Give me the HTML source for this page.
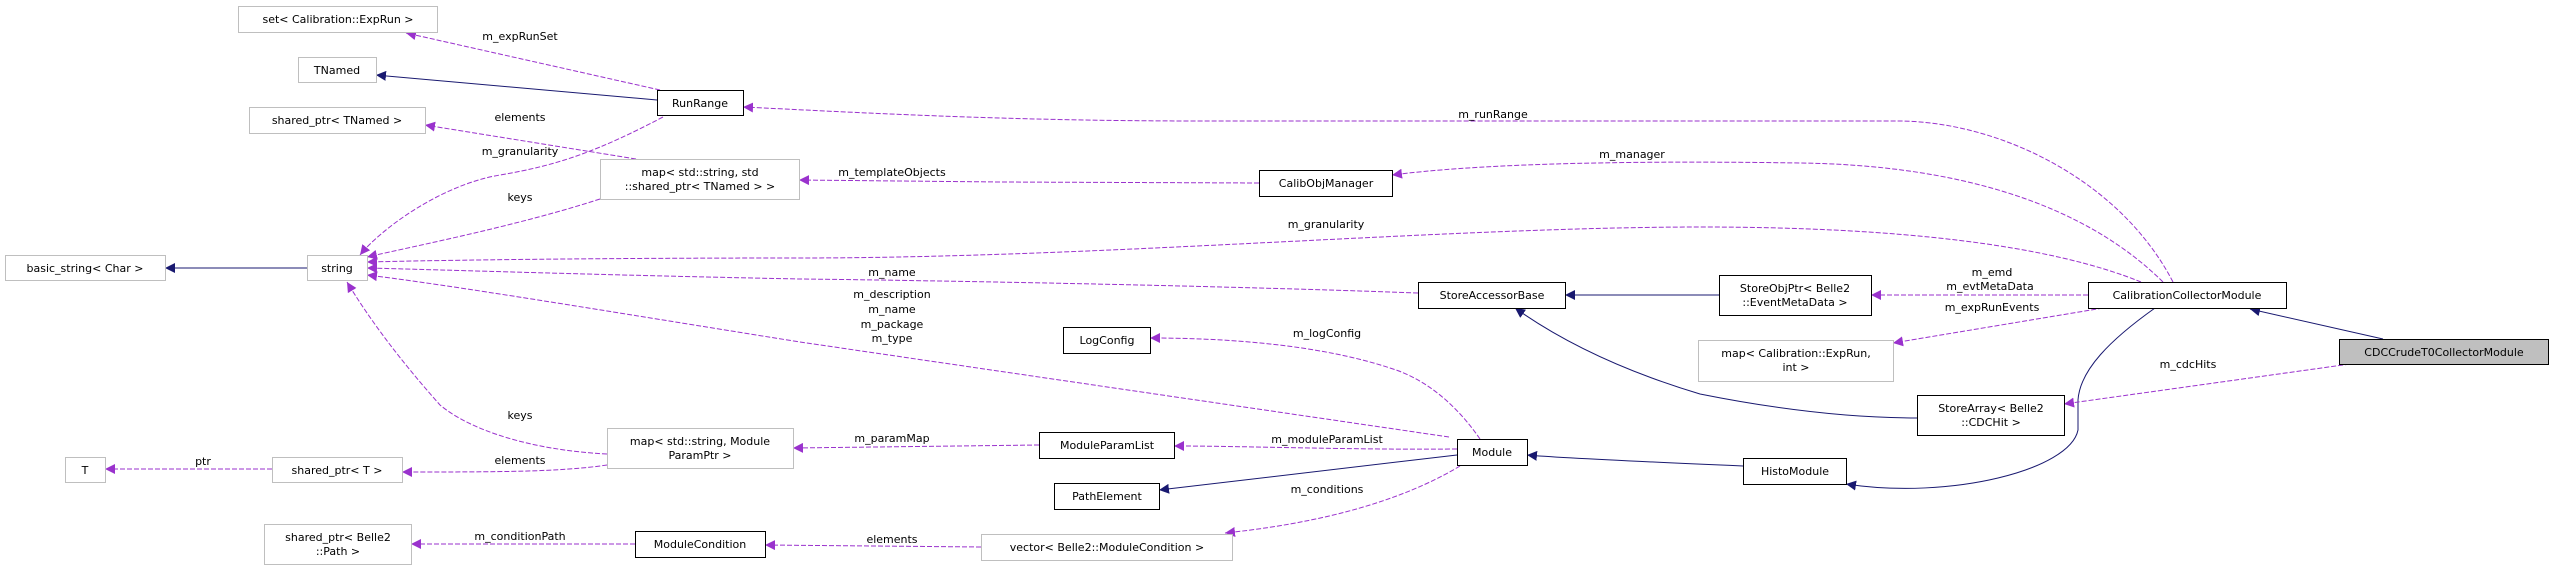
<!DOCTYPE html>
<html><head><meta charset="utf-8"><style>
html,body{margin:0;padding:0;background:#fff;}
svg{display:block;}
text{font-family:"DejaVu Sans","Liberation Sans",sans-serif;font-size:11px;fill:#000;}
.g{fill:#fff;stroke:#bfbfbf;stroke-width:1}
.b{fill:#fff;stroke:#000;stroke-width:1}
.p{fill:none;stroke:#9a32cd;stroke-width:1;stroke-dasharray:5,2}
.n{fill:none;stroke:#191970;stroke-width:1}
</style></head><body>
<svg width="2555" height="569" viewBox="0 0 2555 569" xmlns="http://www.w3.org/2000/svg">
<defs>
<marker id="mp" viewBox="0 0 10 10" refX="10" refY="5" markerWidth="10" markerHeight="10" markerUnits="userSpaceOnUse" orient="auto"><path d="M0,0 L10,5 L0,10 z" fill="#9a32cd"/></marker>
<marker id="mb" viewBox="0 0 10 10" refX="10" refY="5" markerWidth="10" markerHeight="10" markerUnits="userSpaceOnUse" orient="auto"><path d="M0,0 L10,5 L0,10 z" fill="#191970"/></marker>
</defs>

<!-- edges -->
<path class="p" marker-end="url(#mp)" d="M660,90 L406,33"/>
<path class="n" marker-end="url(#mb)" d="M657,100 L376,75"/>
<path class="p" marker-end="url(#mp)" d="M636,159 L425,125"/>
<path class="p" marker-end="url(#mp)" d="M663,117 C600,150 560,165 500,175 C440,185 380,230 360,255"/>
<path class="p" marker-end="url(#mp)" d="M600,199 C520,225 420,245 367,257"/>
<path class="n" marker-end="url(#mb)" d="M307,268 L165,268"/>
<path class="p" marker-end="url(#mp)" d="M2173,282 C2120,180 2000,122 1900,121 L1200,121 C1000,121 850,112 743,107"/>
<path class="p" marker-end="url(#mp)" d="M2163,282 C2080,200 1950,165 1800,163 C1600,160 1470,165 1392,175"/>
<path class="p" marker-end="url(#mp)" d="M1259,183 L1000,182 L799,180"/>
<path class="p" marker-end="url(#mp)" d="M2141,282 C2050,245 1900,227 1700,227 C1450,227 1100,258 800,258 C600,258 450,260 367,262"/>
<path class="p" marker-end="url(#mp)" d="M1418,293 C1200,285 900,280 800,279 C600,275 450,270 367,268"/>
<path class="p" marker-end="url(#mp)" d="M1449,437 L800,342 C600,310 450,285 367,275"/>
<path class="p" marker-end="url(#mp)" d="M607,454 C530,450 470,430 440,405 C400,360 370,320 347,282"/>
<path class="p" marker-end="url(#mp)" d="M607,465 C560,472 500,472 402,472"/>
<path class="p" marker-end="url(#mp)" d="M272,469 L105,469"/>
<path class="p" marker-end="url(#mp)" d="M1039,445 L793,448"/>
<path class="p" marker-end="url(#mp)" d="M1457,449 C1350,450 1250,446 1174,446"/>
<path class="p" marker-end="url(#mp)" d="M1480,439 C1460,410 1430,380 1390,368 C1320,345 1230,338 1150,338"/>
<path class="n" marker-end="url(#mb)" d="M1457,455 L1159,490"/>
<path class="p" marker-end="url(#mp)" d="M1460,466 C1420,490 1350,520 1225,533"/>
<path class="p" marker-end="url(#mp)" d="M981,547 L765,545"/>
<path class="p" marker-end="url(#mp)" d="M635,544 L411,544"/>
<path class="n" marker-end="url(#mb)" d="M1743,466 C1650,462 1560,458 1527,455"/>
<path class="n" marker-end="url(#mb)" d="M1917,418 C1850,418 1780,410 1700,394 C1620,370 1560,340 1515,308"/>
<path class="n" marker-end="url(#mb)" d="M1719,295 L1565,295"/>
<path class="p" marker-end="url(#mp)" d="M2088,295 L1871,295"/>
<path class="p" marker-end="url(#mp)" d="M2103,308 L1893,343"/>
<path class="n" marker-end="url(#mb)" d="M2155,308 C2110,340 2080,370 2078,400 L2078,430 C2070,470 1950,500 1846,484"/>
<path class="n" marker-end="url(#mb)" d="M2383,339 L2250,309"/>
<path class="p" marker-end="url(#mp)" d="M2350,364 L2064,404"/>

<!-- edge labels -->
<g text-anchor="middle">
<text x="520" y="40">m_expRunSet</text>
<text x="520" y="121">elements</text>
<text x="520" y="155">m_granularity</text>
<text x="520" y="201">keys</text>
<text x="520" y="419">keys</text>
<text x="520" y="464">elements</text>
<text x="203" y="465">ptr</text>
<text x="520" y="540">m_conditionPath</text>
<text x="1493" y="118">m_runRange</text>
<text x="1632" y="158">m_manager</text>
<text x="892" y="176">m_templateObjects</text>
<text x="1326" y="228">m_granularity</text>
<text x="892" y="276">m_name</text>
<text x="892" y="298">m_description</text>
<text x="892" y="313">m_name</text>
<text x="892" y="328">m_package</text>
<text x="892" y="342">m_type</text>
<text x="1327" y="337">m_logConfig</text>
<text x="892" y="442">m_paramMap</text>
<text x="1327" y="443">m_moduleParamList</text>
<text x="1327" y="493">m_conditions</text>
<text x="892" y="543">elements</text>
<text x="1992" y="276">m_emd</text>
<text x="1990" y="290">m_evtMetaData</text>
<text x="1992" y="311">m_expRunEvents</text>
<text x="2188" y="368">m_cdcHits</text>
</g>

<!-- nodes -->
<g text-anchor="middle">
<rect class="g" x="238.5" y="6.5" width="199" height="26"/><text x="338" y="23">set&lt; Calibration::ExpRun &gt;</text>
<rect class="g" x="298.5" y="57.5" width="78" height="25"/><text x="337" y="74">TNamed</text>
<rect class="b" x="657.5" y="90.5" width="86" height="25"/><text x="700" y="107">RunRange</text>
<rect class="g" x="249.5" y="107.5" width="176" height="26"/><text x="337" y="124">shared_ptr&lt; TNamed &gt;</text>
<rect class="g" x="600.5" y="159.5" width="199" height="40"/><text x="700" y="176">map&lt; std::string, std</text><text x="700" y="190">::shared_ptr&lt; TNamed &gt; &gt;</text>
<rect class="g" x="5.5" y="255.5" width="160" height="25"/><text x="85" y="272">basic_string&lt; Char &gt;</text>
<rect class="g" x="307.5" y="255.5" width="60" height="25"/><text x="337" y="272">string</text>
<rect class="g" x="65.5" y="457.5" width="40" height="25"/><text x="85" y="474">T</text>
<rect class="g" x="272.5" y="457.5" width="130" height="25"/><text x="337" y="474">shared_ptr&lt; T &gt;</text>
<rect class="g" x="607.5" y="428.5" width="186" height="40"/><text x="700" y="445">map&lt; std::string, Module</text><text x="700" y="459">ParamPtr &gt;</text>
<rect class="g" x="264.5" y="524.5" width="147" height="40"/><text x="338" y="541">shared_ptr&lt; Belle2</text><text x="338" y="555">::Path &gt;</text>
<rect class="b" x="635.5" y="531.5" width="130" height="26"/><text x="700" y="548">ModuleCondition</text>
<rect class="b" x="1259.5" y="170.5" width="133" height="26"/><text x="1326" y="187">CalibObjManager</text>
<rect class="b" x="1418.5" y="282.5" width="147" height="26"/><text x="1492" y="299">StoreAccessorBase</text>
<rect class="b" x="1063.5" y="327.5" width="87" height="26"/><text x="1107" y="344">LogConfig</text>
<rect class="b" x="1039.5" y="432.5" width="135" height="26"/><text x="1107" y="449">ModuleParamList</text>
<rect class="b" x="1457.5" y="439.5" width="70" height="26"/><text x="1492" y="456">Module</text>
<rect class="b" x="1054.5" y="483.5" width="105" height="26"/><text x="1107" y="500">PathElement</text>
<rect class="g" x="981.5" y="534.5" width="251" height="26"/><text x="1107" y="551">vector&lt; Belle2::ModuleCondition &gt;</text>
<rect class="b" x="1719.5" y="275.5" width="152" height="40"/><text x="1795" y="292">StoreObjPtr&lt; Belle2</text><text x="1795" y="306">::EventMetaData &gt;</text>
<rect class="g" x="1698.5" y="340.5" width="195" height="41"/><text x="1796" y="357">map&lt; Calibration::ExpRun,</text><text x="1796" y="371">int &gt;</text>
<rect class="b" x="2088.5" y="282.5" width="198" height="26"/><text x="2187" y="299">CalibrationCollectorModule</text>
<rect x="2339.5" y="339.5" width="209" height="25" fill="#bfbfbf" stroke="#000"/><text x="2444" y="356">CDCCrudeT0CollectorModule</text>
<rect class="b" x="1917.5" y="395.5" width="147" height="40"/><text x="1991" y="412">StoreArray&lt; Belle2</text><text x="1991" y="426">::CDCHit &gt;</text>
<rect class="b" x="1743.5" y="458.5" width="103" height="26"/><text x="1795" y="475">HistoModule</text>
</g>
</svg>
</body></html>
